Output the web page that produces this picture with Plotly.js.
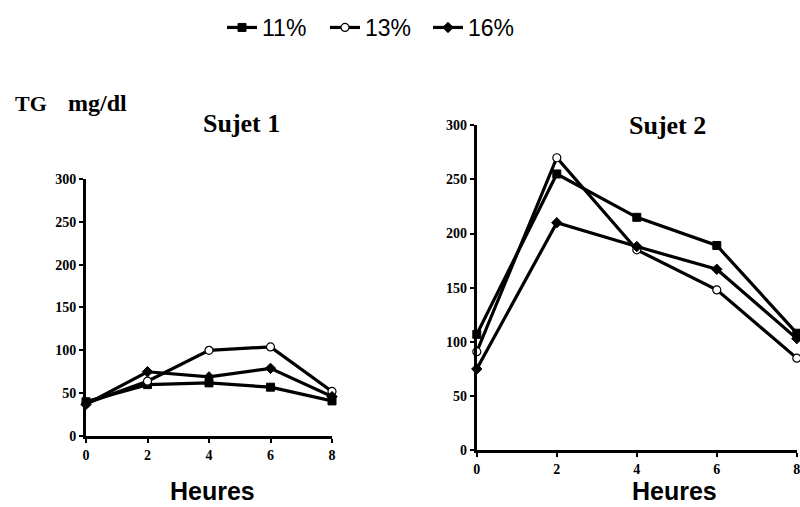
<!DOCTYPE html>
<html><head><meta charset="utf-8">
<script src="https://cdn.plot.ly/plotly-3.0.1.min.js"></script>
<style>html,body{margin:0;padding:0;background:#fff}#c{width:800px;height:507px}</style>
</head><body><div id="c"></div>
<script>
const hours = [0, 2, 4, 6, 8];
const seriesNames = ['11%', '13%', '16%'];
const s1_11 = [40, 60, 62, 57, 41];
const s1_13 = [38, 64, 100, 104, 52];
const s1_16 = [37, 75, 69, 79, 46];
const s2_11 = [107, 255, 215, 189, 108];
const s2_13 = [91, 270, 185, 148, 85];
const s2_16 = [75, 210, 188, 167, 103];
const yTicks = [0, 50, 100, 150, 200, 250, 300];
const xTicks = [0, 2, 4, 6, 8];

const markers = [
  {symbol: 'square', size: 8, color: '#000', line: {color: '#000', width: 1}},
  {symbol: 'circle', size: 8, color: '#fff', line: {color: '#000', width: 1.2}},
  {symbol: 'diamond', size: 8, color: '#000', line: {color: '#000', width: 1}}
];
function tr(y, i, ax, show) {
  return {x: hours, y: y, name: seriesNames[i], type: 'scatter', mode: 'lines+markers',
    xaxis: ax[0], yaxis: ax[1], showlegend: show, cliponaxis: false,
    line: {color: '#000', width: 3.2}, marker: markers[i]};
}
const data = [
  tr(s1_11, 0, ['x', 'y'], true), tr(s1_13, 1, ['x', 'y'], true), tr(s1_16, 2, ['x', 'y'], true),
  tr(s2_11, 0, ['x2', 'y2'], false), tr(s2_13, 1, ['x2', 'y2'], false), tr(s2_16, 2, ['x2', 'y2'], false)
];
const tickFont = {family: 'Liberation Serif', size: 14, color: '#000', weight: 'bold'};
function xa(dom, anchor) {
  return {domain: dom, anchor: anchor, range: [0, 8], tickvals: xTicks, ticks: 'outside', ticklen: 4,
    tickwidth: 2, tickcolor: '#000', showline: true, linewidth: 3, linecolor: '#000', showgrid: false,
    zeroline: false, tickfont: tickFont, fixedrange: true, ticklabeloverflow: 'allow'};
}
function ya(dom, anchor) {
  return {domain: dom, anchor: anchor, range: [0, 300], tickvals: yTicks, ticks: 'outside', ticklen: 4,
    tickwidth: 2, tickcolor: '#000', showline: true, linewidth: 3, linecolor: '#000', showgrid: false,
    zeroline: false, tickfont: tickFont, fixedrange: true, ticklabeloverflow: 'allow'};
}
const serifB = (s) => ({family: 'Liberation Serif', size: s, color: '#000', weight: 'bold'});
const sansB = (s) => ({family: 'Liberation Sans', size: s, color: '#000', weight: 'bold'});
function ann(text, px, py, font, xanchor) {
  return {text: text, xref: 'paper', yref: 'paper', x: px / 800, y: (507 - py) / 507,
    xanchor: xanchor || 'center', yanchor: 'middle', showarrow: false, font: font};
}
const layout = {
  width: 800, height: 507, margin: {l: 0, r: 0, t: 0, b: 0},
  paper_bgcolor: '#fff', plot_bgcolor: '#fff',
  xaxis: xa([0.1075, 0.415], 'y'), yaxis: ya([0.140, 0.647], 'x'),
  xaxis2: xa([0.596, 0.996], 'y2'), yaxis2: ya([0.112, 0.753], 'x2'),
  showlegend: true,
  legend: {orientation: 'h', x: 222 / 800, xanchor: 'left', y: 1 - 6 / 507, yanchor: 'top',
    font: {family: 'Liberation Sans', size: 23, color: '#000'}, itemwidth: 30,
    entrywidth: 58, entrywidthmode: 'pixels', tracegroupgap: 0, bgcolor: 'rgba(0,0,0,0)'},
  annotations: [
    ann('TG', 13, 103, serifB(22), 'left'),
    ann('mg/dl', 66, 103, serifB(24), 'left'),
    ann('Sujet 1', 241, 123, serifB(26)),
    ann('Sujet 2', 667, 125, serifB(26)),
    ann('Heures', 212, 491, sansB(25)),
    ann('Heures', 674, 491, sansB(25))
  ]
};
Plotly.newPlot('c', data, layout, {displayModeBar: false, staticPlot: true});
</script></body></html>
